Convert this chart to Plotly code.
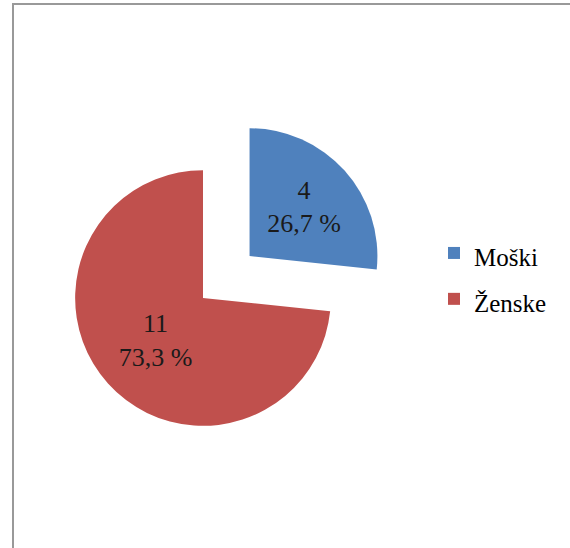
import plotly.graph_objects as go

labels = ["Moški", "Ženske"]
values = [4, 11]
colors = ["#4F81BD", "#C0504D"]
pulls = [0.49, 0.0]

W, H = 570, 548
total = sum(values)
texts = [f"{v}<br>{(v / total * 100):.1f}".replace(".", ",") + " %" for v in values]
legend_labels = [f"<span style='font-size:25px'>{l}</span>" for l in labels]

fig = go.Figure(
    go.Pie(
        labels=legend_labels,
        values=values,
        text=texts,
        textinfo="text",
        textposition="inside",
        insidetextorientation="horizontal",
        sort=False,
        direction="clockwise",
        rotation=0,
        pull=pulls,
        marker=dict(colors=colors, line=dict(width=0)),
        textfont=dict(family="Liberation Serif", size=26, color="#1a1a1a"),
        domain=dict(x=[12.5 / W, 393.5 / W], y=[1 - 488.5 / H, 1 - 107.5 / H]),
        hoverinfo="value+percent",
    )
)

fig.update_layout(
    width=W,
    height=H,
    margin=dict(l=0, r=0, t=0, b=0),
    paper_bgcolor="white",
    showlegend=True,
    legend=dict(
        x=434 / W,
        y=1 - 276 / H,
        xanchor="left",
        yanchor="middle",
        font=dict(family="Liberation Serif", size=33, color="black"),
        itemwidth=30,
        bgcolor="rgba(0,0,0,0)",
    ),
    shapes=[
        dict(
            type="rect",
            xref="paper",
            yref="paper",
            x0=13 / W,
            x1=1.05,
            y0=-0.05,
            y1=1 - 4 / H,
            line=dict(color="#999999", width=2),
        )
    ],
)

fig.write_html("out.html")
